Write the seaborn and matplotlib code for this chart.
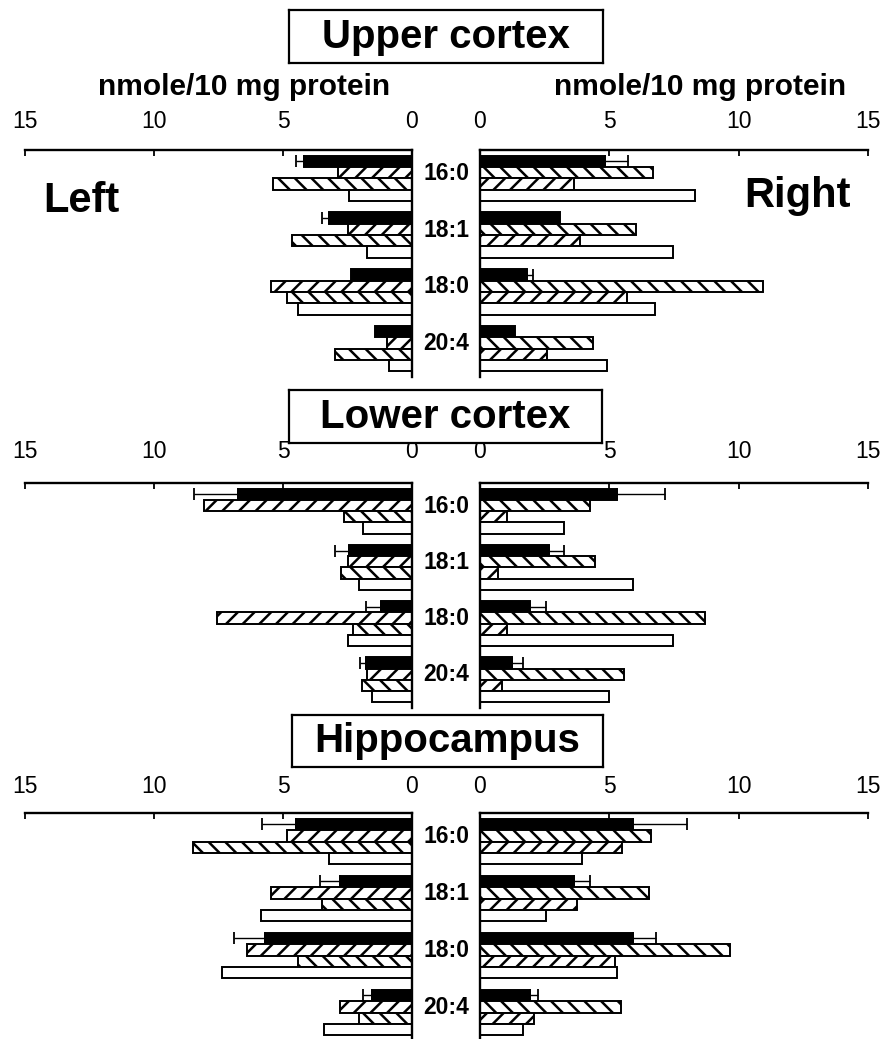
import numpy as np
import pandas as pd
import matplotlib
matplotlib.use("Agg")
import matplotlib.pyplot as plt
import matplotlib.transforms as mtransforms
import seaborn as sns

sns.set_style("white")
plt.rcParams["font.family"] = ["Liberation Sans", "DejaVu Sans"]
plt.rcParams["text.color"] = "black"
plt.rcParams["axes.labelcolor"] = "black"
plt.rcParams["xtick.color"] = "black"
plt.rcParams["ytick.color"] = "black"
plt.rcParams["hatch.linewidth"] = 1.8
plt.rcParams["hatch.color"] = "black"

# ---- data (nmole / 10 mg protein) ----
acids = ["16:0", "18:1", "18:0", "20:4"]
groups = ["G1", "G2", "G3", "G4"]
regions = ["Upper cortex", "Lower cortex", "Hippocampus"]
ticks = [0, 5, 10, 15]

# Upper cortex
upper_left_g1 = [4.2, 3.2, 2.35, 1.45]
upper_left_g1_err = [0.3, 0.27, 0.0, 0.0]
upper_left_g2 = [2.85, 2.5, 5.45, 0.95]
upper_left_g3 = [5.4, 4.65, 4.85, 3.0]
upper_left_g4 = [2.45, 1.75, 4.4, 0.9]

upper_right_g1 = [4.85, 3.1, 1.8, 1.35]
upper_right_g1_err = [0.87, 0.0, 0.25, 0.0]
upper_right_g2 = [6.7, 6.05, 10.95, 4.35]
upper_right_g3 = [3.65, 3.85, 5.7, 2.6]
upper_right_g4 = [8.3, 7.45, 6.75, 4.9]

# Lower cortex
lower_left_g1 = [6.75, 2.45, 1.2, 1.8]
lower_left_g1_err = [1.7, 0.55, 0.6, 0.22]
lower_left_g2 = [8.05, 2.5, 7.55, 1.75]
lower_left_g3 = [2.65, 2.75, 2.3, 1.95]
lower_left_g4 = [1.9, 2.05, 2.5, 1.55]

lower_right_g1 = [5.3, 2.65, 1.95, 1.25]
lower_right_g1_err = [1.85, 0.6, 0.6, 0.4]
lower_right_g2 = [4.25, 4.45, 8.7, 5.55]
lower_right_g3 = [1.05, 0.7, 1.05, 0.85]
lower_right_g4 = [3.25, 5.9, 7.45, 5.0]

# Hippocampus
hippo_left_g1 = [4.5, 2.8, 5.7, 1.55]
hippo_left_g1_err = [1.3, 0.75, 1.2, 0.35]
hippo_left_g2 = [4.85, 5.45, 6.4, 2.8]
hippo_left_g3 = [8.5, 3.5, 4.4, 2.05]
hippo_left_g4 = [3.2, 5.85, 7.35, 3.4]

hippo_right_g1 = [5.9, 3.65, 5.9, 1.95]
hippo_right_g1_err = [2.1, 0.6, 0.9, 0.3]
hippo_right_g2 = [6.6, 6.55, 9.65, 5.45]
hippo_right_g3 = [5.5, 3.75, 5.2, 2.1]
hippo_right_g4 = [3.95, 2.55, 5.3, 1.65]

panels = {
    ("Upper cortex", "Left"): ([upper_left_g1, upper_left_g2, upper_left_g3, upper_left_g4], upper_left_g1_err),
    ("Upper cortex", "Right"): ([upper_right_g1, upper_right_g2, upper_right_g3, upper_right_g4], upper_right_g1_err),
    ("Lower cortex", "Left"): ([lower_left_g1, lower_left_g2, lower_left_g3, lower_left_g4], lower_left_g1_err),
    ("Lower cortex", "Right"): ([lower_right_g1, lower_right_g2, lower_right_g3, lower_right_g4], lower_right_g1_err),
    ("Hippocampus", "Left"): ([hippo_left_g1, hippo_left_g2, hippo_left_g3, hippo_left_g4], hippo_left_g1_err),
    ("Hippocampus", "Right"): ([hippo_right_g1, hippo_right_g2, hippo_right_g3, hippo_right_g4], hippo_right_g1_err),
}

palette = {"G1": "black", "G2": "white", "G3": "white", "G4": "white"}
# hatch directions are mirrored on the left-hand half
hatches = {
    "Right": {"G1": "", "G2": "\\\\", "G3": "//", "G4": ""},
    "Left": {"G1": "", "G2": "//", "G3": "\\\\", "G4": ""},
}

# ---- layout (pixels) ----
W, H = 885, 1039
fig = plt.figure(figsize=(W / 100, H / 100), dpi=100)


def rect(x0, y_top, x1, y_bot):
    return [x0 / W, 1 - y_bot / H, (x1 - x0) / W, (y_bot - y_top) / H]


panel_rows = {
    "Upper cortex": dict(top=150, bottom=377, pad=12.0, box=(289, 10, 603, 63)),
    "Lower cortex": dict(top=483, bottom=708, pad=14.5, box=(289, 390, 602, 443)),
    "Hippocampus": dict(top=813, bottom=1041, pad=10.5, box=(292, 715, 603, 767)),
}
side_x = {"Left": (25, 412), "Right": (480, 868)}

axes = {}
for region in regions:
    row = panel_rows[region]
    for side in ["Left", "Right"]:
        x0, x1 = side_x[side]
        ax = fig.add_axes(rect(x0, row["top"], x1, row["bottom"]))
        axes[(region, side)] = ax
        vals, err = panels[(region, side)]
        df = pd.DataFrame(
            [(a, g, v) for g, series in zip(groups, vals) for a, v in zip(acids, series)],
            columns=["acid", "group", "value"],
        )
        sns.barplot(
            data=df, y="acid", x="value", hue="group", order=acids, hue_order=groups,
            palette=palette, orient="h", errorbar=None, edgecolor="black",
            linewidth=1.4, width=0.8, legend=False, ax=ax,
        )
        for g, cont in zip(groups, ax.containers):
            for bar in cont:
                bar.set_hatch(hatches[side][g])
        # one-sided SEM on the first group
        black = ax.containers[0]
        ys = np.array([b.get_y() + b.get_height() / 2 for b in black])
        xs = np.array(vals[0])
        e = np.array(err)
        m = e > 0
        ax.errorbar(xs[m], ys[m], xerr=[np.zeros(m.sum()), e[m]], fmt="none",
                    ecolor="black", elinewidth=1.0, capsize=4, capthick=1.3, zorder=1)

        ax.set_xlim(0, 15)
        ax.set_ylim(3.5, -0.5)
        ax.set_xticks(ticks)
        ax.set_xticklabels([str(t) for t in ticks])
        ax.set_yticks([])
        ax.set_xlabel("")
        ax.set_ylabel("")
        ax.xaxis.tick_top()
        ax.tick_params(axis="x", direction="in", length=4, width=1.3,
                       labelsize=16.5, pad=row["pad"], colors="black")
        for sp in ax.spines.values():
            sp.set_linewidth(1.7)
            sp.set_color("black")
        ax.spines["bottom"].set_visible(False)
        if side == "Left":
            ax.invert_xaxis()
            ax.spines["left"].set_visible(False)
        else:
            ax.spines["right"].set_visible(False)
        ax.set_facecolor("none")

    # fatty acid labels between the two halves
    axr = axes[(region, "Right")]
    trans = mtransforms.blended_transform_factory(axr.transAxes, axr.transData)
    for i, a in enumerate(acids):
        axr.text(-0.0876, i - 0.09, a, transform=trans, ha="center", va="center",
                 fontsize=16.5, fontweight="bold")

    # boxed region title
    bx0, by0, bx1, by1 = row["box"]
    tax = fig.add_axes(rect(bx0, by0, bx1, by1))
    tax.set_xticks([])
    tax.set_yticks([])
    for sp in tax.spines.values():
        sp.set_visible(True)
        sp.set_linewidth(1.6)
        sp.set_color("black")
    tax.text(0.5, 0.29, region, ha="center", va="baseline", fontsize=29,
             fontweight="bold", transform=tax.transAxes)

# axis unit labels over the top panels
for side, cx in [("Left", 244), ("Right", 700)]:
    fig.text(cx / W, 1 - 95 / H, "nmole/10 mg protein", ha="center", va="baseline",
             fontsize=21.5, fontweight="bold")

fig.text(43 / W, 1 - 212 / H, "Left", ha="left", va="baseline", fontsize=30, fontweight="bold")
fig.text(851 / W, 1 - 207 / H, "Right", ha="right", va="baseline", fontsize=30, fontweight="bold")

fig.savefig("out.png", dpi=100)
